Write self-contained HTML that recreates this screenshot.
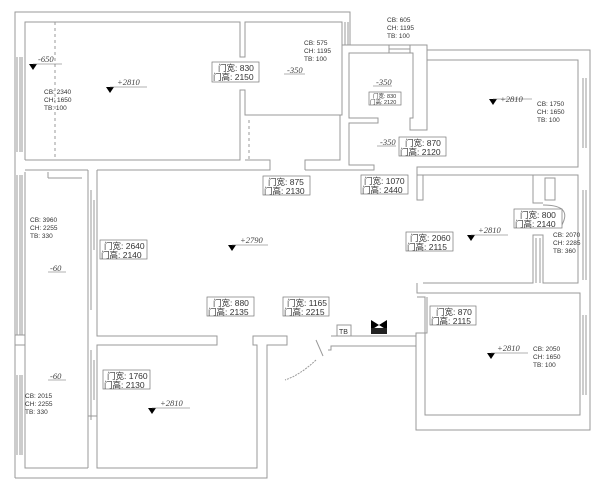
<!DOCTYPE html>
<html><head><meta charset="utf-8"><style>
html,body{margin:0;padding:0;background:#fff;width:600px;height:487px;overflow:hidden}
svg{display:block}
.w{fill:none;stroke:#999;stroke-width:1}
.t{font-family:"Liberation Sans","Noto Sans CJK SC",sans-serif;fill:#333}
.s{font-size:6.5px}
.d{font-size:8.5px}
.e{font-family:"Liberation Serif",serif;font-style:italic;font-size:8.5px;fill:#444}
.b{fill:#fff;stroke:#777;stroke-width:0.7}
</style></head><body>
<svg width="600" height="487" viewBox="0 0 600 487" xmlns="http://www.w3.org/2000/svg">
<g class="w">
<polyline points="15,478 15,12 350,12 350,45"/>
<polyline points="25,160 25,22 240,22 240,57 245,57 245,22 342,22 342,115 245,115 245,90 240,90 240,160 25,160"/>
<line x1="17" y1="57" x2="17" y2="152"/><line x1="20" y1="57" x2="20" y2="152"/><line x1="22" y1="57" x2="22" y2="152"/>
<line x1="55" y1="22" x2="55" y2="160" stroke-dasharray="3,3"/>
<line x1="240" y1="120" x2="240" y2="160" stroke-dasharray="3,3"/><line x1="249" y1="120" x2="249" y2="160" stroke-dasharray="3,3"/>
<polyline points="25,170 88,170"/>
<polyline points="245,160 270,160 270,170 97,170"/>
<line x1="342" y1="22" x2="342" y2="45"/><line x1="345" y1="22" x2="345" y2="45"/><line x1="348" y1="22" x2="348" y2="45"/>
<polyline points="305,170 305,160 340,160 340,115"/>
<polyline points="342,45 427,45 427,130 410,130 410,118 413,118 413,53 349,53 349,118 378,118 378,123 349,123 349,165 374,165 374,170 305,170"/>
<line x1="389" y1="45" x2="389" y2="53"/><line x1="410" y1="45" x2="410" y2="53"/><line x1="389" y1="49" x2="410" y2="49"/>
<polyline points="427,50 590,50 590,430 416,430 416,333 427,333 427,297"/>
<polyline points="427,60 578,60 578,167 417,167 417,175 578,175 578,283 543,283 543,235 533,235 533,283 423,283"/>
<polyline points="417,175 417,200 423,200 423,175"/>
<line x1="583" y1="78" x2="583" y2="148"/><line x1="586" y1="78" x2="586" y2="148"/>
<line x1="583" y1="190" x2="583" y2="280"/><line x1="586" y1="190" x2="586" y2="280"/>
<line x1="583" y1="315" x2="583" y2="395"/><line x1="586" y1="315" x2="586" y2="395"/>
<polyline points="533,175 533,203 543,203"/>
<polyline points="417,283 417,293 433,293 433,293 580,293 580,415 425,415 425,297 417,297"/>
<line x1="536" y1="238" x2="536" y2="283"/><line x1="540" y1="238" x2="540" y2="283"/>
<path d="M543,205 Q575,205 560,228"/>
<rect x="545" y="178" width="10" height="22"/>
<polyline points="331,336 416,336 416,346 331,346 331,350 328,350"/>
<path d="M316,360 Q300,375 285,380" stroke-dasharray="2,1"/>
<line x1="316" y1="340" x2="323" y2="356"/>
<polyline points="416,346 416,430"/>
<rect x="337" y="325" width="14" height="11"/>
<polyline points="25,172 25,468 88,468"/>
<polyline points="88,170 88,468"/><polyline points="97,170 97,336 217,336 217,345 97,345 97,468 257,468 257,345 253,345 253,336 287,336 287,345 267,345 267,478 15,478"/>
<line x1="17" y1="175" x2="17" y2="335"/><line x1="20" y1="175" x2="20" y2="335"/><line x1="22" y1="175" x2="22" y2="335"/>
<line x1="17" y1="375" x2="17" y2="455"/><line x1="20" y1="375" x2="20" y2="455"/><line x1="22" y1="375" x2="22" y2="455"/>
<line x1="15" y1="335" x2="25" y2="335"/><line x1="15" y1="345" x2="25" y2="345"/>
<line x1="91" y1="190" x2="91" y2="310"/><line x1="94" y1="200" x2="94" y2="250"/>
<line x1="91" y1="350" x2="91" y2="420"/><line x1="94" y1="360" x2="94" y2="400"/>
<line x1="88" y1="416" x2="97" y2="416"/>
<line x1="48" y1="172" x2="48" y2="178"/><line x1="48" y1="178" x2="82" y2="178"/>
</g>
<g fill="#000">
<polygon points="371,320 379,325 387,320 387,330 379,325 371,330"/>
<rect x="371" y="328" width="16" height="6" fill="#222"/>
</g>
<g>
<polygon points="29,64 37,64 33,70"/><polygon points="106,87 114,87 110,93"/>
<polygon points="489,99 497,99 493,105"/><polygon points="467,235 475,235 471,241"/>
<polygon points="228,245 236,245 232,251"/><polygon points="148,408 156,408 152,414"/>
<polygon points="487,353 495,353 491,359"/>
</g>
<g stroke="#666" stroke-width="0.6">
<line x1="33" y1="64" x2="62" y2="64"/><line x1="110" y1="87" x2="147" y2="87"/>
<line x1="493" y1="99" x2="532" y2="99"/><line x1="471" y1="235" x2="508" y2="235"/>
<line x1="232" y1="245" x2="268" y2="245"/><line x1="152" y1="408" x2="190" y2="408"/>
<line x1="491" y1="353" x2="528" y2="353"/>
<line x1="284" y1="74" x2="305" y2="74"/><line x1="373" y1="86" x2="392" y2="86"/>
<line x1="377" y1="146" x2="396" y2="146"/><line x1="48" y1="272" x2="66" y2="272"/><line x1="48" y1="380" x2="66" y2="380"/>
</g>
<g class="e">
<text x="38" y="62">-650</text><text x="117" y="85">+2810</text><text x="500" y="102">+2810</text>
<text x="478" y="233">+2810</text><text x="240" y="243">+2790</text><text x="160" y="406">+2810</text>
<text x="497" y="351">+2810</text><text x="287" y="73">-350</text><text x="376" y="85">-350</text>
<text x="380" y="145">-350</text><text x="50" y="271">-60</text><text x="50" y="379">-60</text>
</g>
<g class="t s">
<text x="44" y="94">CB: 2340</text><text x="44" y="102">CH: 1650</text><text x="44" y="110">TB: 100</text>
<text x="30" y="222">CB: 3960</text><text x="30" y="230">CH: 2255</text><text x="30" y="238">TB: 330</text>
<text x="25" y="398">CB: 2015</text><text x="25" y="406">CH: 2255</text><text x="25" y="414">TB: 330</text>
<text x="304" y="45">CB: 575</text><text x="304" y="53">CH: 1195</text><text x="304" y="61">TB: 100</text>
<text x="387" y="22">CB: 605</text><text x="387" y="30">CH: 1195</text><text x="387" y="38">TB: 100</text>
<text x="537" y="106">CB: 1750</text><text x="537" y="114">CH: 1650</text><text x="537" y="122">TB: 100</text>
<text x="553" y="237">CB: 2070</text><text x="553" y="245">CH: 2285</text><text x="553" y="253">TB: 360</text>
<text x="533" y="351">CB: 2050</text><text x="533" y="359">CH: 1650</text><text x="533" y="367">TB: 100</text>
</g>
<g class="t d">
<rect class="b" x="212" y="62" width="47" height="20"/><text x="218" y="71">门宽: 830</text><text x="213" y="80">门高: 2150</text>
<rect class="b" x="263" y="176" width="47" height="19"/><text x="268" y="185">门宽: 875</text><text x="264" y="194">门高: 2130</text>
<rect class="b" x="361" y="175" width="47" height="19"/><text x="364" y="184">门宽: 1070</text><text x="362" y="193">门高: 2440</text>
<rect class="b" x="399" y="137" width="47" height="19"/><text x="405" y="146">门宽: 870</text><text x="400" y="155">门高: 2120</text>
<rect class="b" x="514" y="209" width="48" height="19"/><text x="520" y="218">门宽: 800</text><text x="515" y="227">门高: 2140</text>
<rect class="b" x="406" y="232" width="47" height="19"/><text x="410" y="241">门宽: 2060</text><text x="407" y="250">门高: 2115</text>
<rect class="b" x="100" y="240" width="47" height="19"/><text x="104" y="249">门宽: 2640</text><text x="101" y="258">门高: 2140</text>
<rect class="b" x="207" y="297" width="47" height="19"/><text x="213" y="306">门宽: 880</text><text x="208" y="315">门高: 2135</text>
<rect class="b" x="283" y="297" width="46" height="19"/><text x="287" y="306">门宽: 1165</text><text x="284" y="315">门高: 2215</text>
<rect class="b" x="430" y="306" width="46" height="19"/><text x="436" y="315">门宽: 870</text><text x="431" y="324">门高: 2115</text>
<rect class="b" x="103" y="370" width="47" height="19"/><text x="107" y="379">门宽: 1760</text><text x="104" y="388">门高: 2130</text>
</g>
<rect class="b" x="369" y="92" width="32" height="13"/>
<text class="t" x="373" y="98" font-size="5.5">门宽: 830</text><text class="t" x="370" y="104" font-size="5.5">门高: 2120</text>
<text class="t" x="339" y="334" font-size="7">TB</text>
</svg>
</body></html>
